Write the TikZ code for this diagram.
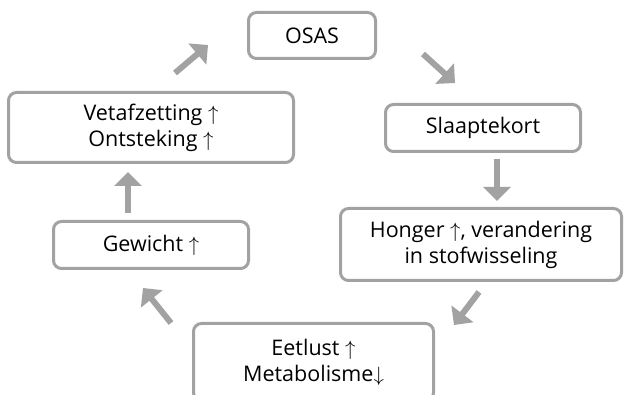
\documentclass[tikz,border=0pt]{standalone}
\usepackage{fontspec}
\setmainfont{Open Sans}
\usetikzlibrary{arrows.meta}
\definecolor{linegray}{RGB}{162,162,162}
\tikzset{
  box/.style={draw=linegray, line width=3pt, rounded corners=8pt, fill=white,
    align=center, inner sep=0pt, font=\fontsize{21.5}{26}\selectfont},
  flow/.style={draw=linegray, line width=6pt,
    -{Triangle[width=27pt,length=14pt]}, fill=linegray}
}
\newcommand{\upar}{$\uparrow$}
\newcommand{\downar}{$\downarrow$}
\begin{document}
\begin{tikzpicture}[x=1pt,y=-1pt]
\useasboundingbox (0,0) rectangle (624,395);
\clip (0,0) rectangle (624,395);
\fill[white] (0,0) rectangle (624,395);
\node[box, minimum width=127pt, minimum height=46pt] (osas) at (312,35.5) {OSAS};
\node[box, minimum width=285pt, minimum height=70pt] (veta) at (151,127.5) {Vetafzetting \upar\\ Ontsteking \upar};
\node[box, minimum width=195pt, minimum height=47pt] (slaap) at (483,128) {Slaaptekort};
\node[box, minimum width=281pt, minimum height=72pt] (honger) at (481,244.5) {Honger \upar, verandering\\ in stofwisseling};
\node[box, minimum width=195pt, minimum height=47pt] (gewicht) at (151,245) {Gewicht \upar};
\node[box, minimum width=240pt, minimum height=77pt] (eet) at (313.5,362) {Eetlust \upar\\ Metabolisme\downar};
\coordinate (a1s) at (175,73);  \coordinate (a1e) at (208,45);
\coordinate (a2s) at (423,54);  \coordinate (a2e) at (455,83);
\coordinate (a3s) at (497,159); \coordinate (a3e) at (497,201);
\coordinate (a4s) at (479,292); \coordinate (a4e) at (454,325);
\coordinate (a5s) at (171,323); \coordinate (a5e) at (143,288);
\coordinate (a6s) at (128,213); \coordinate (a6e) at (128,172);
\draw[flow] (a1s) -- (a1e);
\draw[flow] (a2s) -- (a2e);
\draw[flow] (a3s) -- (a3e);
\draw[flow] (a4s) -- (a4e);
\draw[flow] (a5s) -- (a5e);
\draw[flow] (a6s) -- (a6e);
\end{tikzpicture}
\end{document}
